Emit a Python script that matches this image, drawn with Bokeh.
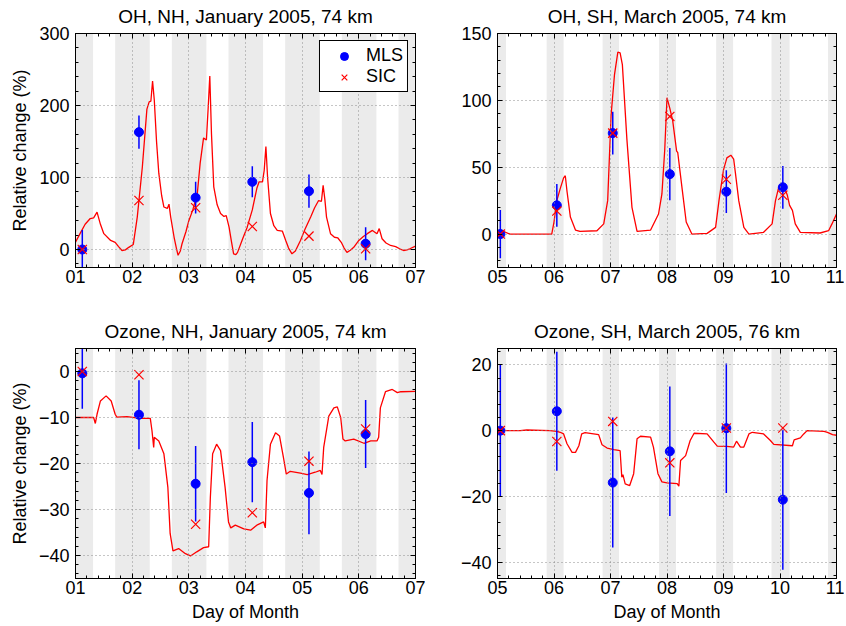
import numpy as np
from bokeh.plotting import figure
from bokeh.models import (LinearAxis, SingleIntervalTicker, BoxAnnotation, Range1d,
                          Legend, LegendItem, CustomLabelingPolicy)
from bokeh.layouts import column, row
from bokeh.embed import file_html
from bokeh.resources import INLINE

# ---------------------------------------------------------------- data
jan_day_ticks = [1, 2, 3, 4, 5, 6, 7]
jan_day_labels = ["01", "02", "03", "04", "05", "06", "07"]
mar_day_ticks = [5, 6, 7, 8, 9, 10, 11]
mar_day_labels = ["05", "06", "07", "08", "09", "10", "11"]

oh_nh_yticks = [0, 100, 200, 300]
oh_nh_ylabels = ["0", "100", "200", "300"]
oh_sh_yticks = [0, 50, 100, 150]
oh_sh_ylabels = ["0", "50", "100", "150"]
o3_nh_yticks = [-40, -30, -20, -10, 0]
o3_nh_ylabels = ["\u221240", "\u221230", "\u221220", "\u221210", "0"]
o3_sh_yticks = [-40, -20, 0, 20]
o3_sh_ylabels = ["\u221240", "\u221220", "0", "20"]

# night-time (shaded) intervals, in day of month
nh_night_start = [0.70, 1.70, 2.70, 3.70, 4.70, 5.70, 6.70]
nh_night_end = [1.31, 2.31, 3.31, 4.31, 5.31, 6.31, 7.31]
sh_night_start = [4.86, 5.87, 6.86, 7.86, 8.87, 9.85, 10.85]
sh_night_end = [5.15, 6.17, 7.15, 8.16, 9.17, 10.17, 11.15]

# observation times
jan_obs_day = [1.12, 2.12, 3.12, 4.12, 5.12, 6.12]
mar_obs_day = [5.05, 6.05, 7.04, 8.05, 9.05, 10.05]

# OH, NH, January 2005, 74 km
oh_nh_mls = [0, 163, 72, 94, 81, 8]
oh_nh_mls_err = [27, 23, 22, 21.5, 23, 23]
oh_nh_sic = [0, 68, 58, 32, 18.6, 1]
oh_nh_model_day = [1.0, 1.08, 1.17, 1.26, 1.32, 1.38, 1.44, 1.5, 1.62, 1.7, 1.76, 1.82, 1.88,
                   1.94, 2.02, 2.09, 2.18, 2.26, 2.30, 2.33, 2.36, 2.39, 2.43, 2.47, 2.52,
                   2.56, 2.62, 2.65, 2.68, 2.74, 2.78, 2.81, 2.85, 2.88, 2.95, 3.0, 3.07,
                   3.15, 3.2, 3.26, 3.31, 3.34, 3.37, 3.40, 3.44, 3.5, 3.56, 3.62, 3.66,
                   3.71, 3.75, 3.79, 3.83, 3.86, 3.95, 4.03, 4.12, 4.2, 4.24, 4.30, 4.33,
                   4.36, 4.39, 4.44, 4.5, 4.56, 4.65, 4.71, 4.76, 4.82, 4.88, 4.97, 5.05,
                   5.15, 5.22, 5.29, 5.34, 5.37, 5.40, 5.43, 5.5, 5.57, 5.63, 5.69, 5.74,
                   5.79, 5.85, 5.91, 6.0, 6.08, 6.15, 6.24, 6.32, 6.36, 6.41, 6.48, 6.56,
                   6.65, 6.72, 6.79, 6.85, 6.90, 7.0]
oh_nh_model = [10.2, 22, 35, 43, 44, 52, 35, 22, 12.6, 10, 4, -1.4, -0.5,
               3, 7, 45, 115, 195, 205, 206, 234, 208, 150, 106, 75,
               59, 57, 63, 45, 17, 2, -8, -2, 8, 25, 40, 55,
               78, 120, 155, 152, 195, 241, 160, 87, 62, 50, 46, 47,
               31, 12, -6, -7, -4, 15, 31, 55, 85, 94, 94, 110,
               143, 100, 50, 33, 26.5, 25.6, 12.6, 2, -6, -2, 12.6, 28,
               45, 58, 68, 67, 89, 70, 45, 22, 17, 16, 10, 2,
               -4, -1, 3, 12.6, 18, 22, 26.5, 22, 29, 15, 9, 5.6,
               4, 1, -1.4, -0.5, 1, 4.7]

# OH, SH, March 2005, 74 km
oh_sh_mls = [0, 21.5, 75.5, 44.8, 31.7, 35]
oh_sh_mls_err = [18, 16, 16, 19.5, 16, 16]
oh_sh_sic = [0, 17.2, 75.5, 88, 41, 29]
oh_sh_model_day = [5.0, 5.08, 5.22, 5.4, 5.96, 6.0, 6.05, 6.11, 6.17, 6.2, 6.23, 6.29, 6.38,
                   6.46, 6.76, 6.88, 6.95, 7.01, 7.07, 7.13, 7.17, 7.21, 7.29, 7.38, 7.47,
                   7.71, 7.85, 7.91, 7.96, 8.0, 8.05, 8.1, 8.17, 8.19, 8.27, 8.34, 8.44,
                   8.71, 8.86, 8.92, 9.0, 9.06, 9.13, 9.18, 9.21, 9.27, 9.36, 9.45, 9.71,
                   9.86, 9.92, 9.98, 10.07, 10.13, 10.17, 10.22, 10.27, 10.36, 10.71, 10.86,
                   10.92, 11.0]
oh_sh_model = [1.3, 2.5, 0, 0, 0, 9, 25, 34, 42, 43.6, 32, 12.7, 3,
               2, 2.5, 7.6, 25, 88.7, 119, 136, 135.5, 126.7, 71, 20, 2,
               3, 15, 30, 63, 102, 94, 85, 62, 61, 33, 9, 0,
               0.5, 5, 25, 48, 57, 59, 56, 46, 25, 5, 0, 1.3,
               7.6, 25, 35.5, 35.5, 29, 21.5, 17.7, 7.6, 1.3, 0.8, 2.5,
               7.6, 15]

# Ozone, NH, January 2005, 74 km
o3_nh_mls = [-0.4, -9.4, -24.4, -19.7, -26.4, -13.6]
o3_nh_mls_err = [7.7, 7.5, 8.2, 8.7, 9.0, 7.4]
o3_nh_sic = [0, -0.7, -33.2, -30.7, -19.5, -12.5]
o3_nh_model_day = [1.0, 1.32, 1.35, 1.38, 1.44, 1.54, 1.63, 1.70, 1.73, 1.91, 2.14, 2.32,
                   2.35, 2.38, 2.39, 2.47, 2.56, 2.63, 2.67, 2.72, 2.82, 2.94, 3.03, 3.14,
                   3.26, 3.35, 3.38, 3.42, 3.49, 3.56, 3.64, 3.70, 3.74, 3.82, 3.97, 4.09,
                   4.20, 4.32, 4.35, 4.38, 4.44, 4.53, 4.60, 4.67, 4.72, 4.79, 4.97, 5.09,
                   5.23, 5.32, 5.35, 5.38, 5.47, 5.56, 5.62, 5.68, 5.72, 5.76, 5.91, 6.09,
                   6.21, 6.32, 6.35, 6.38, 6.47, 6.59, 6.68, 6.74, 7.0]
o3_nh_model = [-10, -10, -11.3, -9.3, -6.4, -5.3, -6.4, -9.3, -9.9, -9.8, -10.2, -10.2,
               -12.9, -16.5, -14.3, -15.1, -17.9, -25.2, -35.2, -39, -38.5, -39.6, -40.1, -39.2,
               -38.3, -38.1, -27.3, -17.9, -15.8, -17.2, -25.2, -32.7, -34, -33.4, -34.2, -34.5,
               -33.4, -32.7, -34, -23.7, -15.8, -13.3, -14, -18.7, -22.3, -21.7, -22.1, -22.4,
               -21.9, -21.5, -22.4, -16.5, -9.7, -7.9, -7.7, -10, -14.7, -15.1, -14.7, -15.6,
               -15.1, -15.1, -14.3, -7.9, -4.4, -3.9, -4.6, -4.4, -4.3]

# Ozone, SH, March 2005, 76 km
o3_sh_mls = [0, 5.9, -15.8, -6.3, 0.75, -21]
o3_sh_mls_err = [20, 18.1, 19.8, 19.7, 19.7, 21.3]
o3_sh_sic = [0, -3.3, 2.8, -9.8, 0.8, 0.8]
o3_sh_model_day = [5.0, 5.17, 5.4, 5.52, 5.93, 6.05, 6.11, 6.17, 6.23, 6.32, 6.38, 6.44,
                   6.49, 6.55, 6.79, 6.85, 6.94, 7.06, 7.17, 7.20, 7.22, 7.26, 7.34, 7.41,
                   7.47, 7.53, 7.71, 7.76, 7.84, 7.91, 8.0, 8.18, 8.21, 8.24, 8.33, 8.41,
                   8.48, 8.71, 8.83, 8.89, 9.06, 9.18, 9.23, 9.30, 9.36, 9.45, 9.51, 9.71,
                   9.83, 9.89, 10.22, 10.25, 10.36, 10.42, 10.48, 10.78, 10.84, 10.93, 11.0]
o3_sh_model = [0.2, 0, 0, 0.2, 0, -0.2, -0.5, -1, -4, -6.6, -6.6, -4.6,
               -1, -0.6, -1.2, -4.3, -5.3, -5.8, -6.1, -14.2, -13.4, -16.2, -16.7, -13.1,
               -2.5, -1.7, -2, -5, -13.1, -15.6, -15.9, -16.1, -16.9, -9.1, -7.6, -3,
               -0.8, -1, -3.5, -4.7, -4.8, -5, -3.2, -5, -5, -1, -0.5, -1,
               -3, -4.2, -4.6, -2.8, -2.2, -1, 0, -0.2, -0.5, -1.2, -1.4]

titles = ["OH, NH, January 2005, 74 km", "OH, SH, March 2005, 74 km",
          "Ozone, NH, January 2005, 74 km", "Ozone, SH, March 2005, 76 km"]
y_title = "Relative change (%)"
x_title = "Day of Month"

# ---------------------------------------------------------------- style
FONT = "Liberation Sans"
FS = "18px"
BLUE = "#0000ff"
RED = "#ff0000"
BAND = "#ebebeb"

NO_LABELS = CustomLabelingPolicy(code="return new indices.constructor(indices.size)")


def style_axis(ax, labels=True):
    ax.major_tick_in = 5
    ax.major_tick_out = 0
    ax.minor_tick_in = 3
    ax.minor_tick_out = 0
    ax.major_tick_line_color = "black"
    ax.minor_tick_line_color = "black"
    ax.axis_line_color = "black"
    if labels:
        ax.major_label_text_font = FONT
        ax.major_label_text_font_size = FS
        ax.major_label_text_color = "black"
        ax.axis_label_text_font = FONT
        ax.axis_label_text_font_size = FS
        ax.axis_label_text_font_style = "normal"
        ax.axis_label_text_color = "black"
    else:
        ax.major_label_policy = NO_LABELS
        ax.major_label_text_font_size = "1px"
        ax.major_label_standoff = 0
        ax.axis_label_standoff = 0


def make_panel(title, xr, yr, xticks, xlabels, yticks, ylabels, yint,
               bstart, bend, mday, mval, oday, mls, mls_err, sic,
               w, h, bl, br, bt, bb, ylab=None, xlab=None, legend=False):
    p = figure(width=w, height=h, x_range=Range1d(*xr), y_range=Range1d(*yr),
               output_backend="svg", toolbar_location=None, title=title,
               min_border_left=bl, min_border_right=br, min_border_top=bt,
               min_border_bottom=bb)
    p.background_fill_color = "white"
    p.border_fill_color = "white"
    p.outline_line_color = "black"
    p.outline_line_alpha = 1

    p.title.text_font = FONT
    p.title.text_font_size = "19px"
    p.title.text_font_style = "normal"
    p.title.text_color = "black"
    p.title.align = "center"
    p.title.standoff = 6

    xt = SingleIntervalTicker(interval=1, num_minor_ticks=5)
    yt = SingleIntervalTicker(interval=yint, num_minor_ticks=5)
    p.xaxis.ticker = xt
    p.yaxis.ticker = yt
    p.xgrid.ticker = xt
    p.ygrid.ticker = yt
    p.xaxis.major_label_overrides = dict(zip(xticks, xlabels))
    p.yaxis.major_label_overrides = dict(zip(yticks, ylabels))
    for ax in p.xaxis:
        style_axis(ax)
        ax.major_label_standoff = 2
        ax.axis_label_standoff = 5
    for ax in p.yaxis:
        style_axis(ax)
        ax.major_label_standoff = 6
        ax.axis_label_standoff = 6
    if ylab:
        p.yaxis.axis_label = ylab
    if xlab:
        p.xaxis.axis_label = xlab

    top = LinearAxis(ticker=xt)
    style_axis(top, labels=False)
    p.add_layout(top, "above")
    right = LinearAxis(ticker=yt)
    style_axis(right, labels=False)
    p.add_layout(right, "right")

    for g in (p.xgrid[0], p.ygrid[0]):
        g.grid_line_color = "#8c8c8c"
        g.grid_line_dash = "1 3"
        g.grid_line_width = 1
        g.level = "glyph"

    for s, e in zip(bstart, bend):
        p.add_layout(BoxAnnotation(left=s, right=e, fill_color=BAND, fill_alpha=1,
                                   line_color=None, level="underlay"))

    p.line(mday, mval, line_color=RED, line_width=1.3)
    oday_a = np.array(oday)
    lo = np.array(mls) - np.array(mls_err)
    hi = np.array(mls) + np.array(mls_err)
    p.segment(x0=oday_a, y0=lo, x1=oday_a, y1=hi, line_color=BLUE, line_width=1.5)
    r_mls = p.scatter(oday, mls, marker="circle", size=9, fill_color=BLUE, line_color=BLUE)
    r_sic = p.scatter(oday, sic, marker="x", size=13, line_color=RED, line_width=1.2)

    if legend:
        lg = Legend(items=[LegendItem(label="MLS", renderers=[r_mls]),
                           LegendItem(label="SIC", renderers=[r_sic])],
                    location="top_right")
        lg.label_text_font = FONT
        lg.label_text_font_size = FS
        lg.label_text_color = "black"
        lg.border_line_color = "black"
        lg.border_line_width = 1
        lg.border_line_alpha = 1
        lg.background_fill_color = "white"
        lg.background_fill_alpha = 1
        lg.padding = 4
        lg.spacing = 0
        lg.margin = 7
        lg.glyph_width = 40
        lg.glyph_height = 20
        lg.label_standoff = 2
        lg.label_height = 20
        p.add_layout(lg, "center")
    return p


p1 = make_panel(titles[0], (1, 7), (-25, 300), jan_day_ticks, jan_day_labels,
                oh_nh_yticks, oh_nh_ylabels, 100, nh_night_start, nh_night_end,
                oh_nh_model_day, oh_nh_model, jan_obs_day, oh_nh_mls, oh_nh_mls_err,
                oh_nh_sic, 425, 305, 75, 10, 33, 38, ylab=y_title, legend=True)
p2 = make_panel(titles[1], (5, 11), (-25, 150), mar_day_ticks, mar_day_labels,
                oh_sh_yticks, oh_sh_ylabels, 50, sh_night_start, sh_night_end,
                oh_sh_model_day, oh_sh_model, mar_obs_day, oh_sh_mls, oh_sh_mls_err,
                oh_sh_sic, 419, 305, 72, 8, 33, 38)
p3 = make_panel(titles[2], (1, 7), (-45, 5), jan_day_ticks, jan_day_labels,
                o3_nh_yticks, o3_nh_ylabels, 10, nh_night_start, nh_night_end,
                o3_nh_model_day, o3_nh_model, jan_obs_day, o3_nh_mls, o3_nh_mls_err,
                o3_nh_sic, 425, 319, 75, 10, 43, 46, ylab=y_title, xlab=x_title)
p4 = make_panel(titles[3], (5, 11), (-45, 25), mar_day_ticks, mar_day_labels,
                o3_sh_yticks, o3_sh_ylabels, 20, sh_night_start, sh_night_end,
                o3_sh_model_day, o3_sh_model, mar_obs_day, o3_sh_mls, o3_sh_mls_err,
                o3_sh_sic, 419, 319, 72, 8, 43, 46, xlab=x_title)

layout = column(row(p1, p2), row(p3, p4))
open("out.html", "w").write(file_html(layout, INLINE))
